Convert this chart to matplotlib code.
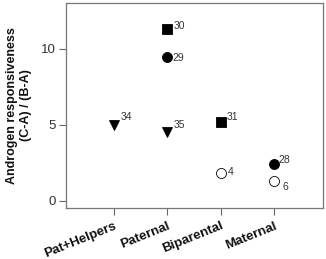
import matplotlib
matplotlib.use("Agg")
import matplotlib.pyplot as plt

plt.rcParams['font.family'] = ['Liberation Sans', 'DejaVu Sans']

categories = ["Pat+Helpers", "Paternal", "Biparental", "Maternal"]

# one entry per point
cat_idx = [1, 2, 2, 2, 3, 3, 4, 4]
values = [5.0, 11.3, 9.45, 4.55, 5.2, 1.85, 2.45, 1.3]
markers = ["v", "s", "o", "v", "s", "o", "o", "o"]
filled = [True, True, True, True, True, False, True, False]
labels = ["34", "30", "29", "35", "31", "4", "28", "6"]
offsets = [(5, 3.5), (4.3, 0), (3.6, -3), (4.5, 3), (4.5, 1.5), (5, -1.5), (3.5, 0.5), (6.5, -6)]

fig = plt.figure(figsize=(3.26, 2.59), dpi=100)
ax = fig.add_axes([0.202, 0.197, 0.789, 0.791])

for x, y, m, f, lab, off in zip(cat_idx, values, markers, filled, labels, offsets):
    ms = 7.2 if m != "s" else 7.0
    ax.plot(x, y, marker=m, linestyle="none", markersize=ms,
            markerfacecolor="black" if f else "white",
            markeredgecolor="black", markeredgewidth=0.6)
    ax.annotate(lab, (x, y), xytext=off, textcoords="offset points",
                fontsize=7.5, color="#333333", va="baseline")

ax.set_xlim(0.1, 4.92)
ax.set_ylim(-0.46, 13.0)
ax.set_xticks(range(1, 5))
ax.set_xticklabels(categories, rotation=22, fontweight="bold", fontsize=9.5,
                   ha="right", rotation_mode="anchor")
ax.set_yticks([0, 5, 10])
ax.tick_params(axis="y", labelsize=9.5, length=5, width=0.8, colors="#666666",
               labelcolor="#333333", pad=2)
ax.tick_params(axis="x", length=5, width=0.8, colors="#666666",
               labelcolor="#111111", pad=3.5)
for s in ax.spines.values():
    s.set_color("#777777")
    s.set_linewidth(0.9)

ax.set_ylabel("Androgen responsiveness\n(C-A) / (B-A)", fontsize=9,
              fontweight="bold", labelpad=7, linespacing=1.15, color="#111111")

fig.savefig("out.png", dpi=100)
